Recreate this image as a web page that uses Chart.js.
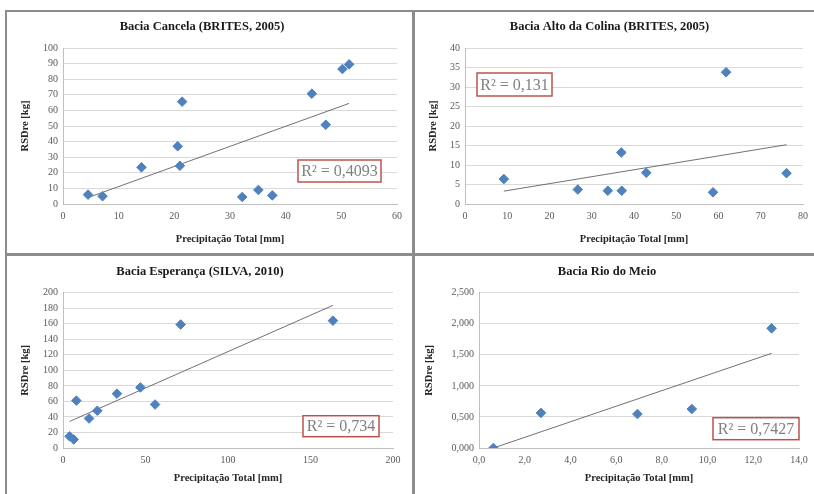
<!DOCTYPE html>
<html>
<head>
<meta charset="utf-8">
<script src="https://cdn.jsdelivr.net/npm/chart.js@4"></script>
<style>
  body { margin: 0; background: #fff; }
  #fig { position: relative; width: 814px; height: 494px; overflow: hidden; background: #fff; }
  .ln { position: absolute; background: #8c8c8c; }
  .cell { position: absolute; }
</style>
</head>
<body>
<div id="fig">
  <div class="ln" style="left:5px;top:10px;width:809px;height:2px"></div>
  <div class="ln" style="left:5px;top:10px;width:2px;height:484px"></div>
  <div class="ln" style="left:412px;top:10px;width:3px;height:484px"></div>
  <div class="ln" style="left:5px;top:253px;width:809px;height:3px"></div>
  <div class="cell" style="left:7px;top:12px;width:405px;height:241px"><canvas id="c1"></canvas></div>
  <div class="cell" style="left:415px;top:12px;width:399px;height:241px"><canvas id="c2"></canvas></div>
  <div class="cell" style="left:7px;top:256px;width:405px;height:238px"><canvas id="c3"></canvas></div>
  <div class="cell" style="left:415px;top:256px;width:399px;height:238px"><canvas id="c4"></canvas></div>
</div>
<script>
// Bacia Cancela (BRITES, 2005)
const canceX = [4.5, 7.1, 14.1, 20.6, 21.0, 21.4, 32.2, 35.1, 37.6, 44.7, 47.2, 50.2, 51.4];
const canceY = [6, 5, 23.5, 37, 24.5, 65.6, 4.5, 9, 5.5, 70.7, 50.8, 86.5, 89.5];
const canceTrendX = [4.5, 51.4];
const canceTrendY = [4.1, 64.5];
const canceXTicks = [0, 10, 20, 30, 40, 50, 60];
const canceYTicks = [0, 10, 20, 30, 40, 50, 60, 70, 80, 90, 100];

// Bacia Alto da Colina (BRITES, 2005)
const colinaX = [9.2, 26.7, 33.8, 37.0, 37.1, 42.9, 58.7, 61.8, 76.1];
const colinaY = [6.4, 3.7, 3.4, 13.2, 3.4, 8.0, 3.0, 33.8, 7.9];
const colinaTrendX = [9.2, 76.1];
const colinaTrendY = [3.3, 15.2];
const colinaXTicks = [0, 10, 20, 30, 40, 50, 60, 70, 80];
const colinaYTicks = [0, 5, 10, 15, 20, 25, 30, 35, 40];

// Bacia Esperança (SILVA, 2010)
const esperX = [4.0, 6.5, 8.1, 15.8, 20.8, 32.7, 46.9, 55.8, 71.3, 163.6];
const esperY = [15, 11, 61, 38, 48, 70, 78, 56, 159, 164];
const esperTrendX = [4.0, 163.6];
const esperTrendY = [34.2, 183.7];
const esperXTicks = [0, 50, 100, 150, 200];
const esperYTicks = [0, 20, 40, 60, 80, 100, 120, 140, 160, 180, 200];

// Bacia Rio do Meio
const rioX = [0.63, 2.71, 6.93, 9.31, 12.8];
const rioY = [0.0, 0.565, 0.547, 0.628, 1.926];
const rioTrendX = [0.63, 12.8];
const rioTrendY = [0.0, 1.524];
const rioXTicks = [0, 2, 4, 6, 8, 10, 12, 14];
const rioXLabels = ['0,0', '2,0', '4,0', '6,0', '8,0', '10,0', '12,0', '14,0'];
const rioYTicks = [0, 0.5, 1, 1.5, 2, 2.5];
const rioYLabels = ['0,000', '0,500', '1,000', '1,500', '2,000', '2,500'];

const SERIF = '"Liberation Serif", "DejaVu Serif", serif';

// Caixa do R² desenhada por cima do gráfico
const r2Box = {
  id: 'r2box',
  afterDraw(chart, args, o) {
    if (!o.text) return;
    const { ctx, chartArea } = chart;
    const x = chartArea.left + o.x, y = chartArea.top + o.y;
    ctx.save();
    ctx.fillStyle = '#fff';
    ctx.fillRect(x, y, o.w, o.h);
    ctx.strokeStyle = '#c0504d';
    ctx.lineWidth = 1.5;
    ctx.strokeRect(x, y, o.w, o.h);
    ctx.fillStyle = '#7f7f7f';
    ctx.font = '16px ' + SERIF;
    ctx.textAlign = 'center';
    ctx.textBaseline = 'middle';
    ctx.fillText(o.text, x + o.w / 2, y + o.h / 2 + 1);
    ctx.restore();
  },
};

function axis(ticks, labels, pad, opts) {
  return Object.assign({
    min: ticks[0],
    max: ticks[ticks.length - 1],
    afterBuildTicks: s => { s.ticks = ticks.map(v => ({ value: v })); },
    ticks: {
      autoSkip: false,
      maxRotation: 0,
      padding: pad,
      color: '#595959',
      font: { family: SERIF, size: 10 },
      callback: (v, i) => labels ? labels[i] : String(v),
    },
  }, opts);
}

function makeChart(id, cfg) {
  return new Chart(document.getElementById(id), {
    type: 'scatter',
    data: {
      datasets: [
        {
          data: cfg.x.map((v, i) => ({ x: v, y: cfg.y[i] })),
          pointStyle: 'rectRot', pointRadius: 4.8, hoverRadius: 4.8,
          backgroundColor: '#4f81bd', borderColor: '#4f81bd', borderWidth: 1,
        },
        {
          data: cfg.tx.map((v, i) => ({ x: v, y: cfg.ty[i] })),
          showLine: true, pointRadius: 0, borderColor: '#4d4d4d', borderWidth: 0.8,
        },
      ],
    },
    options: {
      responsive: true,
      maintainAspectRatio: false,
      animation: false,
      layout: { padding: { left: 0, right: cfg.padRight, top: 0, bottom: 0 } },
      plugins: {
        legend: { display: false },
        tooltip: { enabled: false },
        title: {
          display: true, text: cfg.title, color: '#1a1a1a',
          font: { family: SERIF, size: 12.5, weight: 'bold' },
          padding: { top: cfg.titleTop, bottom: cfg.titleBottom },
        },
        r2box: cfg.box,
      },
      scales: {
        x: axis(cfg.xt, cfg.xl, 6, {
          type: 'linear',
          grid: { display: false, drawTicks: false },
          border: { color: '#bfbfbf' },
          title: {
            display: true, text: 'Precipitação Total [mm]', color: '#262626',
            font: { family: SERIF, size: 10.5, weight: 'bold' }, padding: { top: 0, bottom: cfg.xTitlePad },
          },
          afterFit: s => { s.height = cfg.xH; },
        }),
        y: axis(cfg.yt, cfg.yl, 5, {
          grid: { color: '#d9d9d9', drawTicks: false },
          border: { color: '#bfbfbf' },
          title: {
            display: true, text: 'RSDre [kg]', color: '#262626',
            font: { family: SERIF, size: 10.5, weight: 'bold' }, padding: { top: cfg.yTitlePad, bottom: 0 },
          },
          afterFit: s => { s.width = cfg.yW; },
        }),
      },
    },
    plugins: [r2Box],
  });
}

makeChart('c1', {
  title: 'Bacia Cancela (BRITES, 2005)', x: canceX, y: canceY, tx: canceTrendX, ty: canceTrendY,
  xt: canceXTicks, yt: canceYTicks, yW: 56, xH: 49, padRight: 15, titleTop: 7.5, titleBottom: 13.5,
  xTitlePad: 7.7, yTitlePad: 11.7,
  box: { text: 'R² = 0,4093', x: 235, y: 112, w: 83, h: 22 },
});
makeChart('c2', {
  title: 'Bacia Alto da Colina (BRITES, 2005)', x: colinaX, y: colinaY, tx: colinaTrendX, ty: colinaTrendY,
  xt: colinaXTicks, yt: colinaYTicks, yW: 50, xH: 49, padRight: 10, titleTop: 7.5, titleBottom: 13.5,
  xTitlePad: 7.7, yTitlePad: 11.7,
  box: { text: 'R² = 0,131', x: 12, y: 25, w: 75, h: 23 },
});
makeChart('c3', {
  title: 'Bacia Esperança (SILVA, 2010)', x: esperX, y: esperY, tx: esperTrendX, ty: esperTrendY,
  xt: esperXTicks, yt: esperYTicks, yW: 56, xH: 46, padRight: 19, titleTop: 8.2, titleBottom: 13.5,
  xTitlePad: 9.7, yTitlePad: 11.7,
  box: { text: 'R² = 0,734', x: 240, y: 123, w: 76, h: 21 },
});
makeChart('c4', {
  title: 'Bacia Rio do Meio', x: rioX, y: rioY, tx: rioTrendX, ty: rioTrendY,
  xt: rioXTicks, xl: rioXLabels, yt: rioYTicks, yl: rioYLabels, yW: 64, xH: 46, padRight: 15,
  titleTop: 8.2, titleBottom: 13.5, xTitlePad: 9.7, yTitlePad: 7.7,
  box: { text: 'R² = 0,7427', x: 234, y: 125, w: 86, h: 22 },
});
</script>
</body>
</html>
